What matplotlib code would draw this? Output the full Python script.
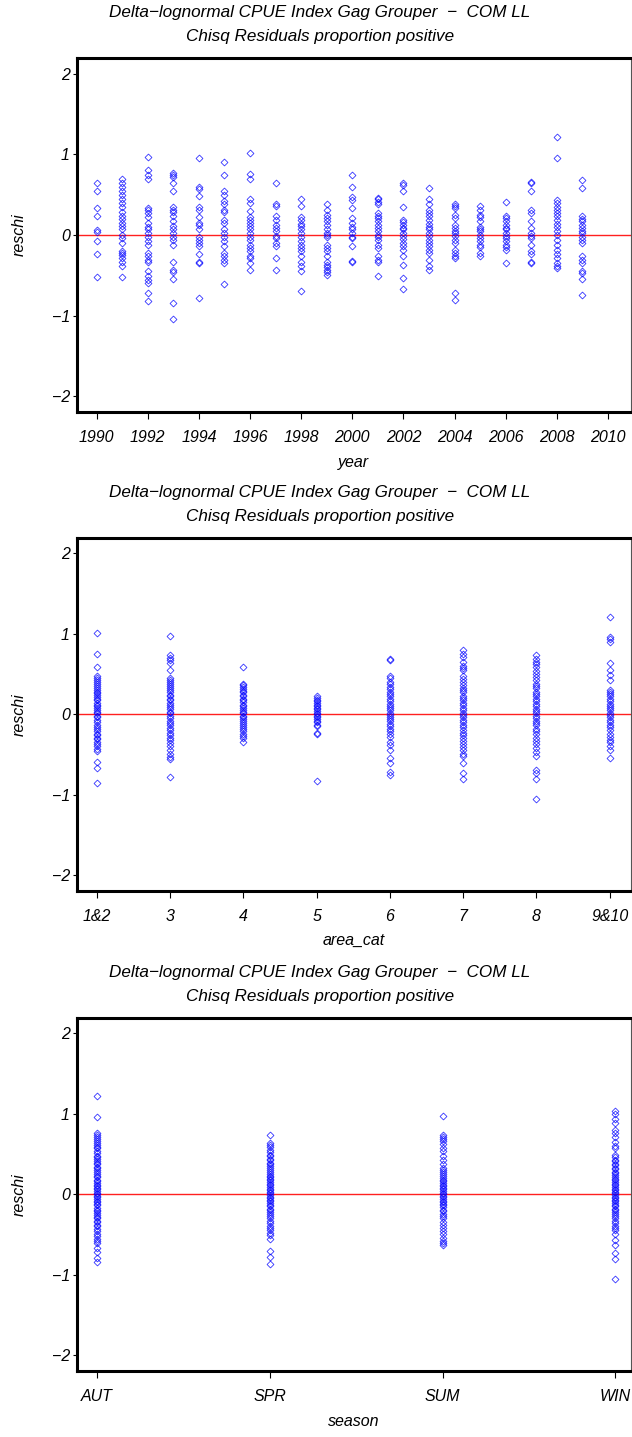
import matplotlib
matplotlib.use("Agg")
import matplotlib.pyplot as plt

# ---------------- data ----------------
years = list(range(1990, 2010))
year_resid = {
    1990: [0.65, 0.55, 0.34, 0.23, 0.06, 0.04, -0.08, -0.23, -0.52],
    1991: [0.69, 0.64, 0.59, 0.54, 0.49, 0.44, 0.40, 0.35, 0.28, 0.24, 0.20, 0.15, 0.11, 0.07, 0.00,
           -0.04, -0.10, -0.20, -0.22, -0.25, -0.28, -0.34, -0.39, -0.52],
    1992: [0.97, 0.80, 0.74, 0.69, 0.33, 0.31, 0.27, 0.22, 0.15, 0.10, 0.07, 0.02, -0.02, -0.08, -0.12,
           -0.22, -0.26, -0.31, -0.33, -0.45, -0.51, -0.56, -0.59, -0.72, -0.82],
    1993: [0.77, 0.74, 0.72, 0.64, 0.54, 0.35, 0.31, 0.28, 0.23, 0.17, 0.11, 0.07, 0.02, -0.02, -0.06,
           -0.12, -0.33, -0.43, -0.46, -0.55, -0.84, -1.04],
    1994: [0.95, 0.60, 0.57, 0.48, 0.35, 0.31, 0.22, 0.15, 0.13, 0.07, -0.02, -0.06, -0.10, -0.14,
           -0.24, -0.34, -0.35, -0.78],
    1995: [0.90, 0.74, 0.55, 0.50, 0.42, 0.38, 0.31, 0.29, 0.19, 0.15, 0.07, 0.02, -0.02, -0.08, -0.14,
           -0.22, -0.26, -0.31, -0.35, -0.61],
    1996: [1.02, 0.75, 0.69, 0.45, 0.40, 0.30, 0.22, 0.19, 0.15, 0.11, 0.07, 0.02, -0.02, -0.06, -0.12,
           -0.16, -0.20, -0.26, -0.28, -0.35, -0.43],
    1997: [0.64, 0.39, 0.36, 0.23, 0.18, 0.13, 0.09, 0.05, -0.01, -0.04, -0.10, -0.14, -0.28, -0.43],
    1998: [0.45, 0.36, 0.22, 0.18, 0.14, 0.11, 0.07, 0.02, -0.02, -0.07, -0.12, -0.16, -0.20, -0.26,
           -0.33, -0.39, -0.45, -0.69],
    1999: [0.39, 0.31, 0.25, 0.21, 0.17, 0.13, 0.07, 0.02, 0.00, -0.02, -0.12, -0.16, -0.20, -0.26,
           -0.33, -0.37, -0.40, -0.43, -0.46, -0.50],
    2000: [0.74, 0.59, 0.47, 0.43, 0.33, 0.21, 0.15, 0.10, 0.07, 0.02, -0.02, -0.04, -0.14, -0.32, -0.33],
    2001: [0.46, 0.44, 0.41, 0.38, 0.27, 0.24, 0.21, 0.17, 0.13, 0.09, 0.05, 0.00, -0.02, -0.06, -0.12,
           -0.16, -0.26, -0.31, -0.33, -0.51],
    2002: [0.64, 0.62, 0.54, 0.35, 0.19, 0.16, 0.13, 0.09, 0.07, 0.02, -0.01, -0.05, -0.10, -0.14,
           -0.18, -0.26, -0.37, -0.53, -0.67],
    2003: [0.58, 0.45, 0.38, 0.31, 0.27, 0.23, 0.19, 0.14, 0.10, 0.07, 0.02, -0.01, -0.06, -0.10,
           -0.14, -0.18, -0.22, -0.31, -0.39, -0.43],
    2004: [0.39, 0.36, 0.33, 0.25, 0.21, 0.13, 0.09, 0.05, 0.02, -0.01, -0.06, -0.10, -0.18, -0.22,
           -0.26, -0.28, -0.72, -0.80],
    2005: [0.36, 0.31, 0.25, 0.22, 0.17, 0.10, 0.07, 0.05, 0.00, -0.04, -0.08, -0.12, -0.15, -0.22, -0.26],
    2006: [0.41, 0.24, 0.21, 0.17, 0.13, 0.09, 0.07, 0.02, -0.01, -0.04, -0.08, -0.12, -0.15, -0.19, -0.35],
    2007: [0.66, 0.64, 0.55, 0.31, 0.27, 0.17, 0.09, 0.02, -0.01, -0.04, -0.12, -0.20, -0.23, -0.34, -0.35],
    2008: [1.21, 0.96, 0.43, 0.40, 0.35, 0.31, 0.27, 0.23, 0.19, 0.14, 0.10, 0.05, 0.00, -0.06, -0.12,
           -0.18, -0.24, -0.28, -0.35, -0.39, -0.41],
    2009: [0.68, 0.58, 0.24, 0.20, 0.17, 0.13, 0.09, 0.05, 0.02, -0.02, -0.06, -0.10, -0.26, -0.31,
           -0.35, -0.45, -0.47, -0.55, -0.74],
}
year_ticks = list(range(1990, 2011, 2))

area_labels = ["1&2", "3", "4", "5", "6", "7", "8", "9&10"]
area_resid = {
    "1&2": [1.01, 0.75, 0.59, 0.47, 0.45, 0.42, 0.40, 0.37, 0.35, 0.33, 0.30, 0.28, 0.26, 0.24, 0.21,
            0.19, 0.17, 0.14, 0.12, 0.10, 0.08, 0.05, 0.03, 0.01, -0.02, -0.04, -0.07, -0.10, -0.13,
            -0.16, -0.18, -0.21, -0.24, -0.26, -0.29, -0.31, -0.34, -0.37, -0.40, -0.43, -0.46,
            -0.59, -0.67, -0.85],
    "3": [0.97, 0.73, 0.70, 0.67, 0.63, 0.55, 0.45, 0.43, 0.40, 0.38, 0.35, 0.32, 0.30, 0.27, 0.24,
          0.22, 0.19, 0.17, 0.14, 0.11, 0.09, 0.06, 0.03, 0.01, -0.02, -0.05, -0.08, -0.11, -0.14,
          -0.17, -0.20, -0.23, -0.26, -0.29, -0.32, -0.36, -0.40, -0.45, -0.50, -0.53, -0.56, -0.78],
    "4": [0.58, 0.38, 0.36, 0.34, 0.31, 0.29, 0.27, 0.24, 0.22, 0.19, 0.17, 0.15, 0.12, 0.10, 0.08,
          0.05, 0.03, 0.01, -0.02, -0.04, -0.06, -0.09, -0.11, -0.13, -0.16, -0.18, -0.21, -0.24,
          -0.27, -0.30, -0.34],
    "5": [0.22, 0.20, 0.18, 0.16, 0.14, 0.12, 0.10, 0.08, 0.06, 0.04, 0.02, 0.00, -0.02, -0.04,
          -0.06, -0.08, -0.10, -0.13, -0.15, -0.23, -0.24, -0.83],
    "6": [0.68, 0.67, 0.47, 0.45, 0.40, 0.37, 0.34, 0.31, 0.28, 0.25, 0.22, 0.19, 0.16, 0.13, 0.10,
          0.08, 0.05, 0.02, -0.01, -0.03, -0.06, -0.09, -0.12, -0.15, -0.18, -0.21, -0.25, -0.28,
          -0.34, -0.38, -0.44, -0.54, -0.61, -0.72, -0.75],
    "7": [0.80, 0.75, 0.71, 0.65, 0.60, 0.57, 0.55, 0.48, 0.44, 0.40, 0.36, 0.33, 0.30, 0.27, 0.23,
          0.20, 0.17, 0.14, 0.11, 0.08, 0.05, 0.02, -0.01, -0.04, -0.07, -0.10, -0.13, -0.16, -0.19,
          -0.23, -0.26, -0.30, -0.33, -0.37, -0.41, -0.45, -0.49, -0.52, -0.61, -0.73, -0.80],
    "8": [0.73, 0.69, 0.65, 0.62, 0.58, 0.54, 0.50, 0.46, 0.42, 0.38, 0.35, 0.32, 0.28, 0.25, 0.22,
          0.19, 0.16, 0.13, 0.10, 0.07, 0.04, 0.01, -0.02, -0.05, -0.08, -0.11, -0.14, -0.18, -0.21,
          -0.25, -0.29, -0.33, -0.37, -0.42, -0.47, -0.52, -0.69, -0.73, -0.80, -1.05],
    "9&10": [1.21, 0.96, 0.93, 0.89, 0.63, 0.55, 0.49, 0.42, 0.30, 0.28, 0.25, 0.22, 0.19, 0.16, 0.13,
             0.10, 0.08, 0.05, 0.02, -0.01, -0.04, -0.07, -0.10, -0.13, -0.16, -0.20, -0.24, -0.28,
             -0.32, -0.35, -0.40, -0.45, -0.54],
}

season_labels = ["AUT", "SPR", "SUM", "WIN"]
season_resid = {
    "AUT": [1.22, 0.96, 0.76, 0.73, 0.71, 0.69, 0.66, 0.64, 0.61, 0.59, 0.57, 0.54, 0.51, 0.48, 0.46,
            0.44, 0.41, 0.39, 0.37, 0.34, 0.32, 0.30, 0.27, 0.25, 0.23, 0.21, 0.18, 0.16, 0.14, 0.12,
            0.10, 0.08, 0.06, 0.04, 0.02, 0.00, -0.02, -0.04, -0.06, -0.08, -0.10, -0.12, -0.14,
            -0.17, -0.19, -0.21, -0.23, -0.26, -0.28, -0.30, -0.33, -0.35, -0.38, -0.40, -0.43,
            -0.46, -0.49, -0.52, -0.55, -0.58, -0.61, -0.67, -0.72, -0.79, -0.84],
    "SPR": [0.74, 0.63, 0.61, 0.58, 0.55, 0.52, 0.49, 0.47, 0.44, 0.42, 0.39, 0.37, 0.35, 0.32, 0.30,
            0.28, 0.25, 0.23, 0.21, 0.19, 0.17, 0.15, 0.13, 0.11, 0.09, 0.07, 0.05, 0.03, 0.01, -0.01,
            -0.03, -0.05, -0.07, -0.09, -0.11, -0.13, -0.15, -0.18, -0.20, -0.22, -0.25, -0.27,
            -0.30, -0.33, -0.36, -0.39, -0.42, -0.45, -0.48, -0.51, -0.55, -0.71, -0.78, -0.86],
    "SUM": [0.97, 0.74, 0.71, 0.68, 0.66, 0.62, 0.57, 0.53, 0.47, 0.42, 0.37, 0.33, 0.30, 0.27, 0.25,
            0.22, 0.20, 0.18, 0.16, 0.14, 0.12, 0.10, 0.08, 0.06, 0.04, 0.02, 0.00, -0.02, -0.04,
            -0.06, -0.08, -0.10, -0.12, -0.14, -0.16, -0.19, -0.21, -0.24, -0.27, -0.30, -0.34,
            -0.38, -0.42, -0.46, -0.50, -0.54, -0.58, -0.61, -0.63],
    "WIN": [1.03, 1.00, 0.93, 0.88, 0.80, 0.76, 0.71, 0.65, 0.60, 0.57, 0.49, 0.46, 0.43, 0.41, 0.38,
            0.36, 0.33, 0.31, 0.28, 0.26, 0.24, 0.21, 0.19, 0.17, 0.15, 0.13, 0.11, 0.09, 0.07, 0.05,
            0.03, 0.01, -0.01, -0.03, -0.05, -0.07, -0.09, -0.11, -0.13, -0.15, -0.18, -0.20, -0.22,
            -0.25, -0.27, -0.30, -0.33, -0.36, -0.39, -0.42, -0.45, -0.49, -0.57, -0.63, -0.73,
            -0.80, -1.05],
}

title1 = "Delta\u2212lognormal CPUE Index Gag Grouper  \u2212  COM LL"
title2 = "Chisq Residuals proportion positive"
y_ticks = [-2, -1, 0, 1, 2]

# ---------------- style ----------------
FONT = "Liberation Sans"
plt.rcParams["font.family"] = [FONT, "DejaVu Sans"]
plt.rcParams["font.style"] = "italic"
FS = 11.5
FS_T = 12.3

W, H = 632, 1437
fig = plt.figure(figsize=(W / 100, H / 100), dpi=100)

left_px, right_px = 76.7, 631.0
panels = [
    dict(top=58.3, bottom=411.7, t1=12, t2=36, xl=463, xlabel="year"),
    dict(top=537.7, bottom=890.7, t1=493, t2=516, xl=940, xlabel="area_cat"),
    dict(top=1017.7, bottom=1370.7, t1=973, t2=996, xl=1421, xlabel="season"),
]

marker_kw = dict(marker="D", linestyle="none", markersize=3.5, markerfacecolor="none",
                 markeredgecolor="#0000ff", markeredgewidth=0.6, alpha=0.8)


def make_axes(p):
    ax = fig.add_axes([left_px / W, 1 - p["bottom"] / H,
                       (right_px - left_px) / W, (p["bottom"] - p["top"]) / H])
    for s in ["left", "bottom", "top"]:
        ax.spines[s].set_linewidth(2.2)
    ax.spines["right"].set_linewidth(0.8)
    ax.spines["right"].set_color("#555555")
    ax.set_ylim(-2.19, 2.19)
    ax.set_yticks(y_ticks)
    ax.set_yticklabels([("\u2212" + str(-v)) if v < 0 else str(v) for v in y_ticks], fontsize=FS)
    ax.tick_params(axis="y", length=3, width=0.8, pad=2)
    ax.tick_params(axis="x", length=5, width=0.8, pad=8, labelsize=FS)
    ax.axhline(0, color="#ff2020", lw=1.0, zorder=1)
    mid = (p["top"] + p["bottom"]) / 2
    fig.text(19 / W, 1 - mid / H, "reschi", rotation=90, ha="center", va="center", fontsize=FS)
    fig.text(320 / W, 1 - p["t1"] / H, title1, ha="center", va="center", fontsize=FS_T)
    fig.text(320 / W, 1 - p["t2"] / H, title2, ha="center", va="center", fontsize=FS_T)
    fig.text((left_px + right_px) / 2 / W, 1 - p["xl"] / H, p["xlabel"],
             ha="center", va="center", fontsize=FS)
    return ax


# Panel 1: year
ax1 = make_axes(panels[0])
for yr in years:
    vals = year_resid[yr]
    ax1.plot([yr] * len(vals), vals, **marker_kw)
ax1.set_xlim(1989.22, 2010.9)
ax1.set_xticks(year_ticks)
ax1.set_xticklabels([str(t) for t in year_ticks])

# Panel 2: area
ax2 = make_axes(panels[1])
for i, a in enumerate(area_labels):
    vals = area_resid[a]
    ax2.plot([i] * len(vals), vals, **marker_kw)
ax2.set_xlim(-0.273, 7.29)
ax2.set_xticks(range(len(area_labels)))
ax2.set_xticklabels(area_labels)

# Panel 3: season
ax3 = make_axes(panels[2])
for i, s in enumerate(season_labels):
    vals = season_resid[s]
    ax3.plot([i] * len(vals), vals, **marker_kw)
ax3.set_xlim(-0.116, 3.09)
ax3.set_xticks(range(len(season_labels)))
ax3.set_xticklabels(season_labels)

fig.savefig("out.png", dpi=100)
